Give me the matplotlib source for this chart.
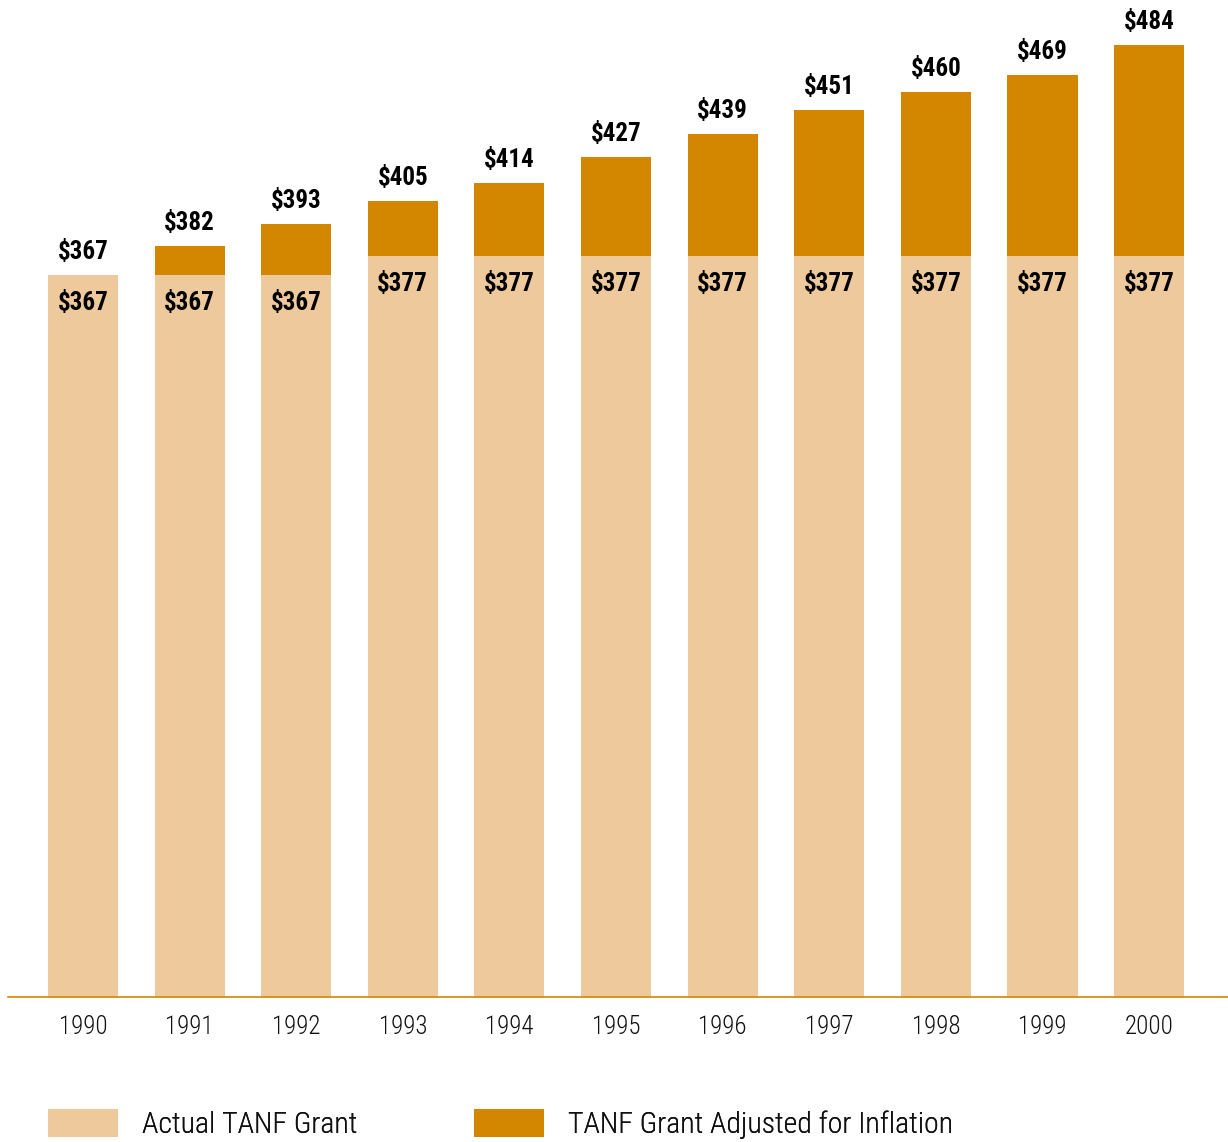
import matplotlib
matplotlib.use("Agg")
import matplotlib.pyplot as plt
from matplotlib import font_manager as fm

years = ["1990", "1991", "1992", "1993", "1994", "1995", "1996", "1997", "1998", "1999", "2000"]
actual = [367, 367, 367, 377, 377, 377, 377, 377, 377, 377, 377]
adjusted = [367, 382, 393, 405, 414, 427, 439, 451, 460, 469, 484]
series_names = ["Actual TANF Grant", "TANF Grant Adjusted for Inflation"]

LIGHT = "#EEC99B"
DARK = "#D38600"

names = {f.name for f in fm.fontManager.ttflist}
FAM = "Liberation Sans"
for cand in ["Roboto Condensed", "Archivo Narrow", "Barlow Semi Condensed", "Asap Condensed"]:
    if cand in names:
        FAM = cand
        break
FAMS = [FAM, "DejaVu Sans"]

W, H = 1228, 1142
fig = plt.figure(figsize=(W / 100, H / 100), dpi=100)
ax = fig.add_axes([8 / W, 145 / H, 1 - 8 / W, 997 / H])

x = list(range(len(years)))
bw = 0.657
extra = [a - b for a, b in zip(adjusted, actual)]
b1 = ax.bar(x, actual, width=bw, color=LIGHT, label=series_names[0], zorder=2)
b2 = ax.bar(x, extra, bottom=actual, width=bw, color=DARK, label=series_names[1], zorder=2)

ax.set_xlim(-0.703, 10.74)
ax.set_ylim(0, 507)

for xi, a, t in zip(x, actual, adjusted):
    ax.annotate(f"${t}", (xi, t), xytext=(0, 23), textcoords="offset pixels",
                ha="center", va="center", fontsize=18, fontweight="bold", family=FAMS, color="black")
    ax.annotate(f"${a}", (xi, a), xytext=(0, -28), textcoords="offset pixels",
                ha="center", va="center", fontsize=18, fontweight="bold", family=FAMS, color="black")

for s in ["top", "right", "left"]:
    ax.spines[s].set_visible(False)
ax.spines["bottom"].set_color(DARK)
ax.spines["bottom"].set_linewidth(1.2)
ax.set_yticks([])
ax.set_xticks(x)
ax.set_xticklabels(years, fontsize=18, family=FAMS, fontweight="light", color="#111111")
ax.tick_params(axis="x", length=0, pad=13)

fs = 21.5
px = fs * 100 / 72
handles = [b1, b2]
anchors = [48, 474]
for h, lab, xa in zip(handles, series_names, anchors):
    leg = fig.legend(handles=[h], labels=[lab], loc="center left",
                     bbox_to_anchor=(xa / W, (1142 - 1124) / H), frameon=False,
                     prop={"family": FAMS, "size": fs, "weight": "light"},
                     handlelength=70 / px, handleheight=32 / px,
                     handletextpad=24 / px, borderaxespad=0, borderpad=0)
    for t in leg.get_texts():
        t.set_color("#111111")
    fig.add_artist(leg)

fig.savefig("out.png", dpi=100)
